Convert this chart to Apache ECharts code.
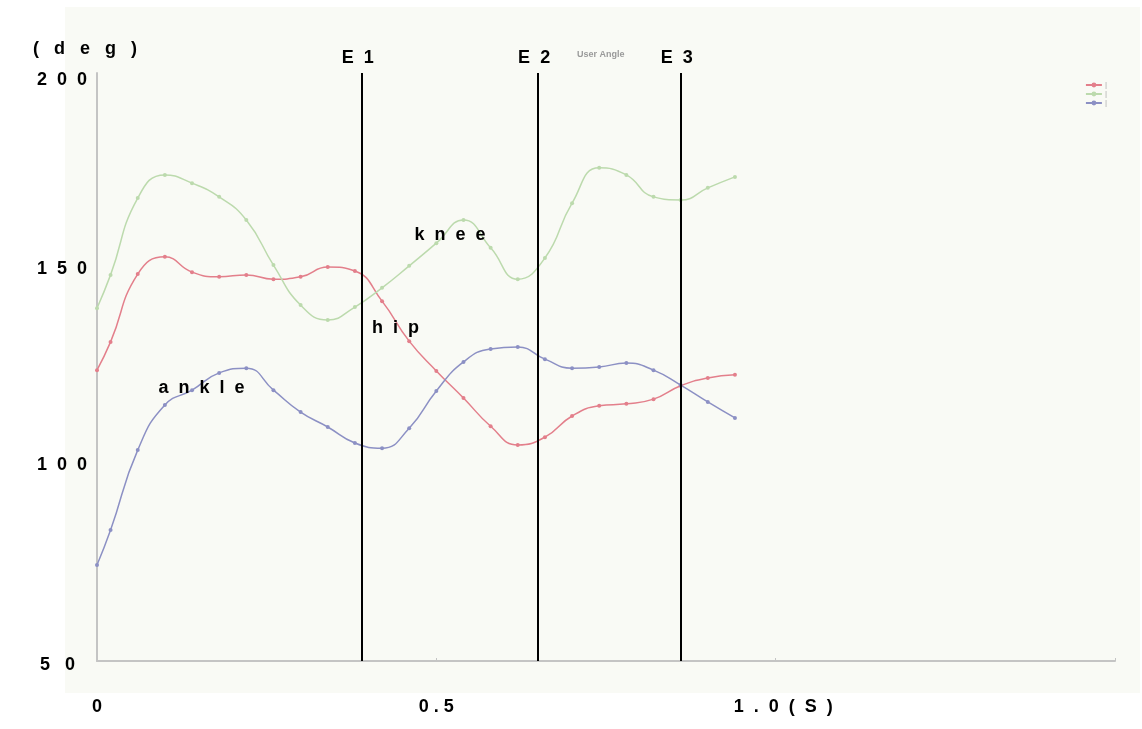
<!DOCTYPE html>
<html>
<head>
<meta charset="utf-8">
<script src="https://cdn.jsdelivr.net/npm/echarts@6/dist/echarts.min.js"></script>
<style>
    html, body { margin: 0; padding: 0; background: #ffffff; }
    #box1 { width: 1142px; height: 729px; }
</style>
</head>
<body>
<div id="box1"></div>
<script>
// 关节角度曲线 User Angle --------------------------------------------------------------
const times = [0, 0.02, 0.06, 0.10, 0.14, 0.18, 0.22, 0.26, 0.30, 0.34, 0.38, 0.42, 0.46,
    0.50, 0.54, 0.58, 0.62, 0.66, 0.70, 0.74, 0.78, 0.82, 0.86, 0.90, 0.94];

const hip = [124.2, 131.4, 148.7, 153.1, 149.2, 148.0, 148.5, 147.4, 148.0, 150.5, 149.5, 141.8, 131.6,
    124.0, 117.1, 109.9, 105.1, 107.1, 112.5, 115.1, 115.6, 116.8, 120.2, 122.2, 123.0];

const knee = [140.0, 148.5, 168.1, 174.0, 171.9, 168.4, 162.5, 151.0, 140.8, 137.0, 140.3, 145.2, 150.8,
    156.6, 162.5, 155.4, 147.4, 152.8, 166.8, 175.8, 174.0, 168.4, 167.6, 170.7, 173.5];

const ankle = [74.5, 83.4, 103.8, 115.3, 119.1, 123.5, 124.7, 119.1, 113.5, 109.7, 105.6, 104.3, 109.4,
    118.9, 126.3, 129.6, 130.1, 127.0, 124.7, 125.0, 126.0, 124.2, 120.4, 116.1, 112.0];

const eventNames = ['E1', 'E2', 'E3'];
const eventTimes = [0.387, 0.651, 0.859];

const yTicks = [50, 100, 150, 200];
const xTicks = [0, 0.5, 1.0];

// 曲线名称标注的位置 [t, deg]
const hipTag = [0.44, 135.0];
const kneeTag = [0.52, 158.7];
const ankleTag = [0.154, 119.6];

// 字母之间加空格, 模仿原图的字距
function spaced(s, gap) {
    return s.split('').join(gap || '  ');
}

function pairs(ys) {
    return times.map(function (t, i) {
        return [t, ys[i]];
    });
}

const tagLabel = {
    show: true,
    position: 'inside',
    color: '#000',
    fontFamily: 'Liberation Sans',
    fontWeight: 'bold',
    fontSize: 18,
    formatter: function (p) {
        return spaced(p.name, '  ');
    }
};

function tag(name, pos) {
    return {
        symbol: 'rect',
        symbolSize: 2,
        itemStyle: { color: 'rgba(0,0,0,0)' },
        label: tagLabel,
        silent: true,
        data: [{ name: name, coord: pos }]
    };
}

function makeSeries(name, ys, color, pos) {
    return {
        name: name,
        type: 'line',
        data: pairs(ys),
        smooth: true,
        symbol: 'circle',
        symbolSize: 4,
        showSymbol: true,
        lineStyle: { color: color, width: 1.5 },
        itemStyle: { color: color },
        z: 3,
        markPoint: tag(name, pos)
    };
}

const hipSeries = makeSeries('hip', hip, '#e37f8b', hipTag);
hipSeries.markLine = {
    silent: true,
    symbol: 'none',
    animation: false,
    lineStyle: { color: '#000', width: 2, type: 'solid' },
    label: {
        show: true,
        position: 'end',
        distance: 6,
        color: '#000',
        fontFamily: 'Liberation Sans',
        fontWeight: 'bold',
        fontSize: 18,
        padding: [0, 8, 0, 0],
        formatter: function (p) {
            return spaced(p.name, '  ');
        }
    },
    data: eventTimes.map(function (t, i) {
        return { name: eventNames[i], xAxis: t };
    })
};

const axisFont = {
    color: '#000',
    fontFamily: 'Liberation Sans',
    fontWeight: 'bold',
    fontSize: 18
};

var option1 = {
    animation: false,
    backgroundColor: '#ffffff',
    graphic: [
        {
            type: 'rect',
            z: -10,
            silent: true,
            shape: { x: 65, y: 7, width: 1075, height: 686 },
            style: { fill: '#f9faf5' }
        }
    ],
    title: {
        text: 'User Angle',
        left: 572,
        top: 45,
        textStyle: {
            color: '#9a9a9a',
            fontFamily: 'Liberation Sans',
            fontSize: 9,
            fontWeight: 'bold'
        }
    },
    legend: {
        orient: 'vertical',
        right: 30,
        top: 76,
        itemGap: 1,
        itemWidth: 16,
        itemHeight: 6,
        data: ['hip', 'knee', 'ankle'],
        formatter: function () {
            return '|';
        },
        textStyle: { color: '#aaaaaa', fontSize: 8, padding: [0, 0, 0, -2] }
    },
    grid: {
        left: 97,
        right: 27,
        top: 73,
        bottom: 68
    },
    xAxis: {
        type: 'value',
        min: 0,
        max: 1.5,
        interval: 0.5,
        splitLine: { show: false },
        axisLine: { lineStyle: { color: '#c4c4c4', width: 2 } },
        axisTick: { show: true, length: 3, inside: true, lineStyle: { color: '#c4c4c4' } },
        axisLabel: Object.assign({}, axisFont, {
            margin: 37,
            formatter: function (v) {
                if (v === xTicks[0]) return '0';
                if (v === xTicks[1]) return spaced('0.5', ' ');
                if (v === xTicks[2]) return '   ' + spaced('1.0(S)', '  ');
                return '';
            }
        })
    },
    yAxis: {
        type: 'value',
        min: yTicks[0],
        max: yTicks[yTicks.length - 1],
        interval: 50,
        name: spaced('(deg)', '   '),
        nameLocation: 'end',
        nameGap: 15,
        nameTextStyle: Object.assign({}, axisFont, { padding: [0, 24, 0, 0] }),
        splitLine: { show: false },
        axisLine: { show: true, lineStyle: { color: '#c4c4c4', width: 2 } },
        axisTick: { show: false },
        axisLabel: Object.assign({}, axisFont, {
            margin: 10,
            formatter: function (v) {
                if (v === yTicks[yTicks.length - 1]) return '{top|' + spaced(String(v)) + '}';
                if (v === yTicks[0]) return '{low|' + spaced(String(v), '   ') + '}';
                return spaced(String(v));
            },
            rich: {
                top: Object.assign({}, axisFont, { padding: [14, 0, 0, 0] }),
                low: Object.assign({}, axisFont, { padding: [8, 12, 0, 0] })
            }
        })
    },
    series: [
        hipSeries,
        makeSeries('knee', knee, '#bcdaad', kneeTag),
        makeSeries('ankle', ankle, '#8c90c4', ankleTag)
    ]
};

var myChart1 = echarts.init(document.getElementById('box1'));
option1 && myChart1.setOption(option1);
</script>
</body>
</html>
